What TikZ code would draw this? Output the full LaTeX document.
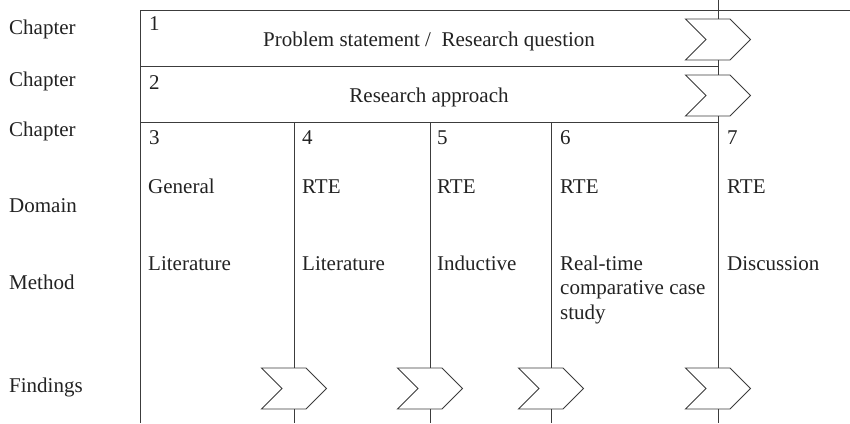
\documentclass[tikz,border=0pt]{standalone}
\usepackage{fontspec}
\setmainfont{Liberation Serif}
\usetikzlibrary{shapes.symbols}
\definecolor{ink}{HTML}{222222}
\definecolor{rule}{HTML}{3C3C3C}
\begin{document}
\begin{tikzpicture}[x=1pt,y=-1pt,
  every node/.style={text=ink, inner sep=0pt, font=\fontsize{21}{24.5}\selectfont},
  rowlabel/.style={anchor=base west},
  celltext/.style={anchor=base west, align=left},
  title/.style={anchor=base},
  frame/.style={draw=rule, line width=0.9pt},
  chev/.style={shape=signal, signal from=west, signal to=east,
    signal pointer angle=90, draw=rule, line width=0.9pt, fill=white,
    minimum width=65pt, minimum height=41pt}
]
\useasboundingbox (0,0) rectangle (850,423);

% frame and grid coordinates
\coordinate (tl) at (140,10);
\coordinate (tr) at (850,10);
\coordinate (bl) at (140,423);
\coordinate (r1l) at (140,66);  \coordinate (r1r) at (718,66);
\coordinate (r2l) at (140,122); \coordinate (r2r) at (718,122);
\coordinate (c4t) at (294,122); \coordinate (c4b) at (294,423);
\coordinate (c5t) at (430,122); \coordinate (c5b) at (430,423);
\coordinate (c6t) at (551,122); \coordinate (c6b) at (551,423);
\coordinate (c7t) at (718,0);   \coordinate (c7b) at (718,423);

% chevrons marking the flow through the chapters
\node[chev] (f1) at (718,39.5) {};
\node[chev] (f2) at (718,95.5) {};
\node[chev] (f4) at (294,388.5) {};
\node[chev] (f5) at (430,388.5) {};
\node[chev] (f6) at (551,388.5) {};
\node[chev] (f7) at (718,388.5) {};

% frame lines
\draw[frame] (tl) -- (tr);
\draw[frame] (tl) -- (bl);
\draw[frame] (r1l) -- (r1r);
\draw[frame] (r2l) -- (r2r);
\draw[frame] (c4t) -- (f4.north);
\draw[frame] (f4.south) -- (c4b);
\draw[frame] (c5t) -- (f5.north);
\draw[frame] (f5.south) -- (c5b);
\draw[frame] (c6t) -- (f6.north);
\draw[frame] (f6.south) -- (c6b);
\draw[frame] (c7t) -- (f1.north);
\draw[frame] (f1.south) -- (f2.north);
\draw[frame] (f2.south) -- (f7.north);
\draw[frame] (f7.south) -- (c7b);

% row labels
\node[rowlabel] (lch1) at (9,34)  {Chapter};
\node[rowlabel] (lch2) at (9,86)  {Chapter};
\node[rowlabel] (lch3) at (9,136) {Chapter};
\node[rowlabel] (ldom) at (9,212) {Domain};
\node[rowlabel] (lmet) at (9,289) {Method};
\node[rowlabel] (lfin) at (9,392) {Findings};

% chapter numbers
\node[celltext] (n1) at (149,30.5) {1};
\node[celltext] (n2) at (149,89)   {2};
\node[celltext] (n3) at (149,144)  {3};
\node[celltext] (n4) at (302,144)  {4};
\node[celltext] (n5) at (437,144)  {5};
\node[celltext] (n6) at (560,144)  {6};
\node[celltext] (n7) at (727,144)  {7};

% spanning chapters
\node[title] (t1) at (429,46.7)  {Problem statement /\ \ Research question};
\node[title] (t2) at (429,102.7) {Research approach};

% domain row
\node[celltext] (d3) at (148,193) {General};
\node[celltext] (d4) at (302,193) {RTE};
\node[celltext] (d5) at (437,193) {RTE};
\node[celltext] (d6) at (560,193) {RTE};
\node[celltext] (d7) at (727,193) {RTE};

% method row (the base of a multi-line node is its last line)
\node[celltext] (m3) at (148,270) {Literature};
\node[celltext] (m4) at (302,270) {Literature};
\node[celltext] (m5) at (437,270) {Inductive};
\node[celltext] (m6) at (560,319) {Real-time\\comparative case\\study};
\node[celltext] (m7) at (727,270) {Discussion};
\end{tikzpicture}
\end{document}
